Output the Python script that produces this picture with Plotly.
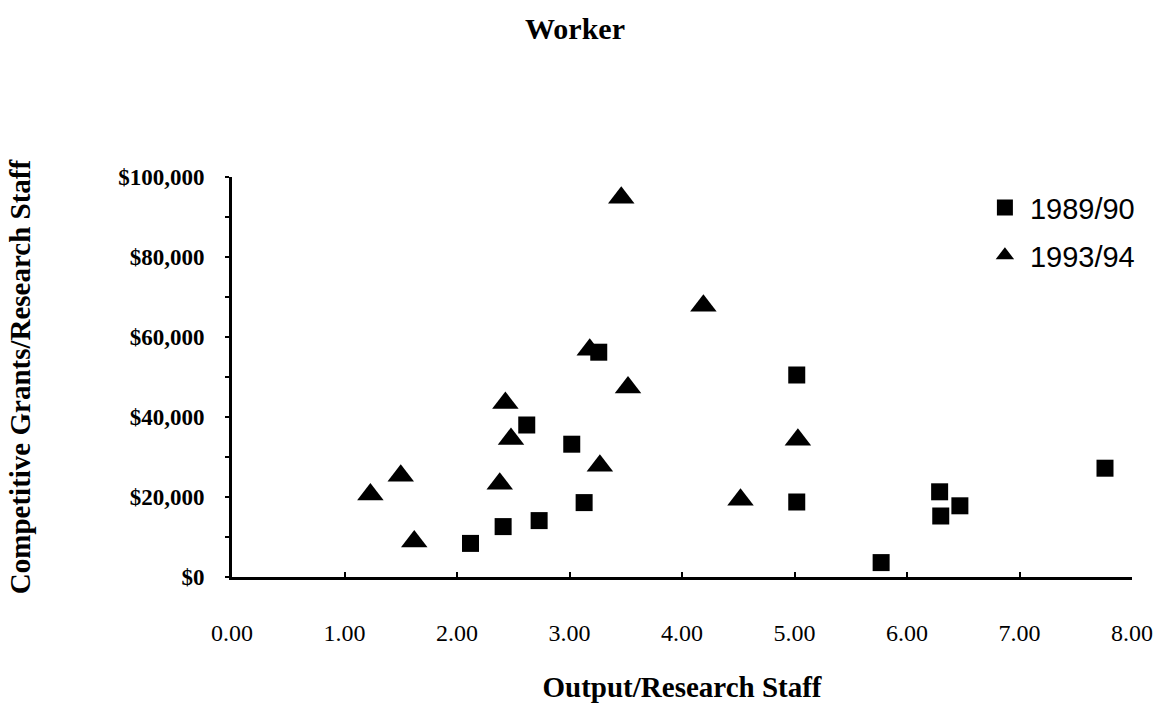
import plotly.graph_objects as go

# 1989/90 observations
x_8990 = [2.12, 2.41, 2.73, 2.62, 3.02, 3.13, 3.26, 5.02, 5.02, 5.77, 6.29, 6.30, 6.47, 7.76]
y_8990 = [8400, 12600, 14100, 38000, 33200, 18600, 56200, 50500, 18750, 3600, 21300, 15250, 17800, 27200]

# 1993/94 observations
x_9394 = [1.23, 1.50, 1.62, 2.38, 2.43, 2.48, 3.18, 3.27, 3.46, 3.52, 4.19, 4.52, 5.03]
y_9394 = [20600, 25300, 8900, 23300, 43500, 34500, 56800, 27800, 94800, 47400, 67800, 19300, 34300]

x_ticks = [0, 1, 2, 3, 4, 5, 6, 7, 8]
x_tick_text = ["0.00", "1.00", "2.00", "3.00", "4.00", "5.00", "6.00", "7.00", "8.00"]
y_ticks = [0, 20000, 40000, 60000, 80000, 100000]
y_tick_text = ["$0", "$20,000", "$40,000", "$60,000", "$80,000", "$100,000"]

SERIF = "Liberation Serif"

fig = go.Figure()
fig.add_trace(go.Scatter(
    x=x_8990, y=y_8990, mode="markers", name="1989/90", legendgroup="a",
    marker=dict(symbol="square", size=17, color="black"),
))
fig.add_trace(go.Scatter(
    x=x_9394, y=y_9394, mode="markers", name="1993/94", legendgroup="b",
    marker=dict(symbol="triangle-up", size=23, color="black"),
))

fig.update_layout(
    width=1163, height=703,
    margin=dict(l=232, r=31, t=177, b=126),
    paper_bgcolor="white", plot_bgcolor="white",
    title=dict(text="<b>Worker</b>", x=575 / 1163, xanchor="center", y=1 - 28 / 703, yanchor="middle",
               font=dict(family=SERIF, size=30, color="black")),
    showlegend=True,
    legend=dict(x=0.831, y=0.987, xanchor="left", yanchor="top",
                font=dict(family="Liberation Sans", size=29, color="black"),
                bgcolor="rgba(0,0,0,0)", itemwidth=40, tracegroupgap=7),
)

fig.update_xaxes(
    range=[0, 8], tickmode="array", tickvals=x_ticks, ticktext=x_tick_text,
    showgrid=False, zeroline=False, showline=True, linecolor="black", linewidth=3,
    ticks="inside", ticklen=5, tickwidth=2, tickcolor="black",
    ticklabelstandoff=32, automargin=False,
    tickfont=dict(family=SERIF, size=24, color="black"),
    title=dict(text="<b>Output/Research Staff</b>", standoff=35,
               font=dict(family=SERIF, size=29, color="black")),
)
fig.update_yaxes(
    range=[0, 100000], tickmode="array", tickvals=y_ticks,
    ticktext=["<b>%s</b>" % t for t in y_tick_text],
    showgrid=False, zeroline=False, showline=True, linecolor="black", linewidth=3,
    ticks="outside", ticklen=4, tickwidth=2, tickcolor="black",
    minor=dict(dtick=10000, ticks="outside", ticklen=4, tickwidth=2, tickcolor="black"),
    ticklabelstandoff=16, automargin=False,
    tickfont=dict(family=SERIF, size=23, color="black"),
    title=dict(text="<b>Competitive Grants/Research Staff</b>", standoff=80,
               font=dict(family=SERIF, size=29, color="black")),
)

fig.write_html("out.html")
